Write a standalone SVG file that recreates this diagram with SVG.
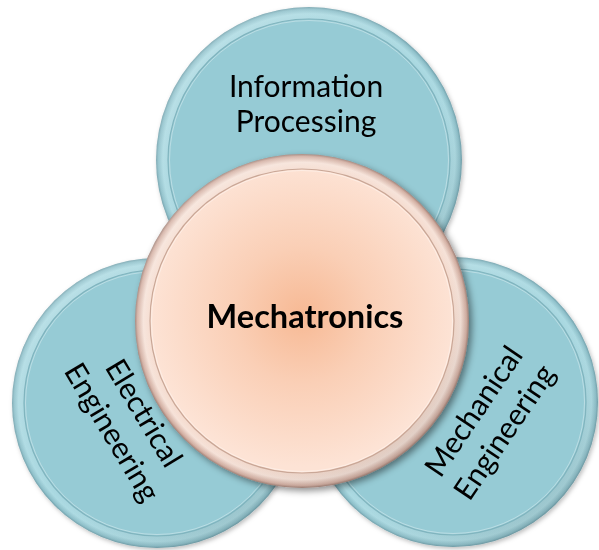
<svg xmlns="http://www.w3.org/2000/svg" width="599" height="550" viewBox="0 0 599 550">
  <defs>
    <radialGradient id="tealRim" cx="0.5" cy="0.5" r="0.5">
      <stop offset="0" stop-color="#A4D4DD"/>
      <stop offset="0.9" stop-color="#A4D4DD"/>
      <stop offset="0.955" stop-color="#ACDAE2"/>
      <stop offset="0.985" stop-color="#8EC0CA"/>
      <stop offset="1" stop-color="#6F9FAA"/>
    </radialGradient>
    <linearGradient id="shade" x1="0.15" y1="0.1" x2="0.85" y2="0.95">
      <stop offset="0" stop-color="#ffffff" stop-opacity="0.18"/>
      <stop offset="0.5" stop-color="#ffffff" stop-opacity="0"/>
      <stop offset="1" stop-color="#000000" stop-opacity="0.12"/>
    </linearGradient>
    <radialGradient id="peachRim" cx="0.5" cy="0.5" r="0.5">
      <stop offset="0" stop-color="#F5D9CB"/>
      <stop offset="0.9" stop-color="#F5D9CB"/>
      <stop offset="0.95" stop-color="#F6E2D8"/>
      <stop offset="0.985" stop-color="#D2AEA1"/>
      <stop offset="1" stop-color="#9C7C72"/>
    </radialGradient>
    <radialGradient id="peachFill" cx="0.5" cy="0.48" r="0.5">
      <stop offset="0" stop-color="#F7B994"/>
      <stop offset="0.45" stop-color="#FACFB6"/>
      <stop offset="1" stop-color="#FDE3D5"/>
    </radialGradient>
    <filter id="shadow" x="-20%" y="-20%" width="140%" height="140%">
      <feDropShadow dx="3" dy="3" stdDeviation="3.5" flood-color="#000000" flood-opacity="0.45"/>
    </filter>
    <filter id="softShadow" x="-20%" y="-20%" width="140%" height="140%">
      <feDropShadow dx="1.5" dy="2" stdDeviation="2" flood-color="#000000" flood-opacity="0.25"/>
    </filter>
  </defs>
  <style>
    .rim { fill: url(#tealRim); }
    .tealIn { fill: #96CBD5; stroke: #80B4BE; stroke-width: 1.2; }
    .hl { fill: none; stroke: #ffffff; stroke-opacity: 0.35; stroke-width: 1; }
    .ov { fill: url(#shade); }
    .lbl { font-family: Lato, "Liberation Sans", sans-serif; font-size: 30px; fill: #000000; text-anchor: middle; }
    .bold { font-weight: bold; font-size: 32.5px; }
  </style>

  <g id="connectors"></g>

  <g id="node-information" filter="url(#softShadow)">
    <circle class="rim" cx="309" cy="160" r="153"/>
    <circle class="ov" cx="309" cy="160" r="153"/>
    <circle class="tealIn" cx="309" cy="160" r="141"/>
    <circle class="hl" cx="309" cy="160" r="139.5"/>
    <text class="lbl" x="306" y="97">Information</text>
    <text class="lbl" x="306" y="132">Processing</text>
  </g>

  <g id="node-electrical" filter="url(#softShadow)">
    <circle class="rim" cx="157" cy="403" r="145"/>
    <circle class="ov" cx="157" cy="403" r="145"/>
    <circle class="tealIn" cx="157" cy="403" r="133"/>
    <circle class="hl" cx="157" cy="403" r="131.5"/>
    <g transform="translate(129 422) rotate(59)">
      <text class="lbl" x="0" y="-7">Electrical</text>
      <text class="lbl" x="0" y="30">Engineering</text>
    </g>
  </g>

  <g id="node-mechanical" filter="url(#softShadow)">
    <circle class="rim" cx="453" cy="402" r="145"/>
    <circle class="ov" cx="453" cy="402" r="145"/>
    <circle class="tealIn" cx="453" cy="402" r="133"/>
    <circle class="hl" cx="453" cy="402" r="131.5"/>
    <g transform="translate(488 421) rotate(-56)">
      <text class="lbl" x="0" y="-7">Mechanical</text>
      <text class="lbl" x="0" y="30">Engineering</text>
    </g>
  </g>

  <g id="node-mechatronics" filter="url(#shadow)">
    <circle cx="302" cy="321" r="167" fill="url(#peachRim)"/>
    <circle cx="302" cy="321" r="167" fill="url(#shade)"/>
    <circle cx="302" cy="321" r="152" fill="url(#peachFill)" stroke="#C9A797" stroke-width="1.2"/>
    <circle cx="302" cy="321" r="150.5" fill="none" stroke="#ffffff" stroke-opacity="0.4" stroke-width="1"/>
    <text class="lbl bold" x="305" y="328">Mechatronics</text>
  </g>
</svg>
